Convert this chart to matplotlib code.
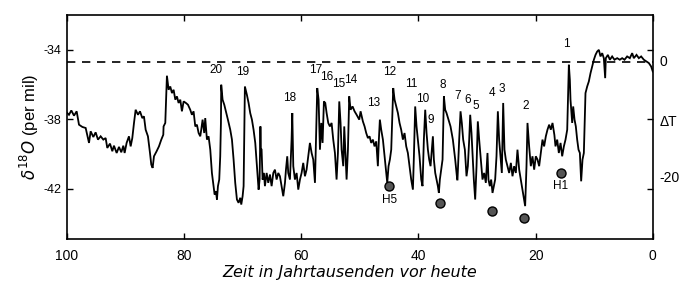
import matplotlib
matplotlib.use("Agg")
import matplotlib.pyplot as plt

# GISP2-style delta-18O record (ka before present, per mil)
age = [100.23, 99.66, 99.26, 98.80, 98.35, 97.95, 97.38, 96.81, 96.24, 95.96, 95.50, 95.11,
       94.71, 94.25, 93.80, 93.40, 93.12, 92.66, 92.26, 91.98, 91.52, 91.12, 90.73, 90.38,
       90.16, 89.82, 89.42, 89.13, 88.85, 88.56, 88.28, 87.88, 87.54, 87.14, 86.86, 86.57,
       86.18, 85.83, 85.61, 85.38, 85.15, 84.70, 84.30, 83.90, 83.56,
       83.51, 83.22, 83.05, 82.94, 82.65, 82.37, 82.08, 81.80, 81.51, 81.23, 80.95, 80.66,
       80.38, 80.09, 79.70, 79.35, 78.96, 78.67, 78.39, 78.10, 77.82, 77.53, 77.25, 77.08,
       76.85, 76.57, 76.40, 76.11, 75.83, 75.54, 75.26, 74.97, 74.80, 74.58, 74.40, 74.23,
       74.01, 73.84, 73.72, 73.67, 73.44, 73.15, 72.87, 72.53, 72.13, 71.84, 71.56, 71.28,
       70.99, 70.71, 70.42, 70.25, 70.02, 69.85, 69.74, 69.63, 69.29, 69.00, 68.72, 68.43,
       68.15, 67.86, 67.58, 67.29, 67.12, 66.98,
       66.90, 66.78, 66.61, 66.38, 66.21, 65.92, 65.64, 65.35, 65.07, 64.78, 64.50, 64.22,
       63.93, 63.65, 63.36, 63.08, 62.79, 62.62, 62.40, 62.23, 61.94, 61.66, 61.54, 61.37,
       61.09, 60.80, 60.52, 60.23, 59.95, 59.67, 59.38, 59.10, 58.81, 58.53, 58.24, 57.96,
       57.67, 57.50, 57.28, 57.05, 56.82, 56.59, 56.37, 56.14, 55.91, 55.68, 55.40, 55.12,
       54.83, 54.55, 54.26, 53.98, 53.75, 53.52, 53.30, 53.12, 52.84, 52.67, 52.50, 52.27,
       52.04, 51.82, 51.59, 51.25, 50.91, 50.56, 50.11,
       49.88, 49.49, 49.20, 48.92, 48.63, 48.35, 48.07, 47.78, 47.50, 47.21, 46.93, 46.76,
       46.59, 46.36, 46.07, 45.79, 45.50, 45.33, 45.11, 44.88, 44.65, 44.42, 44.31, 44.08,
       43.80, 43.51, 43.23, 42.95, 42.66, 42.38, 42.09, 41.81, 41.52, 41.24, 40.95, 40.78,
       40.56, 40.33, 40.10, 39.82, 39.53, 39.31, 39.08, 38.85, 38.62, 38.39, 38.17, 37.94,
       37.71, 37.54, 37.37, 37.14, 36.92, 36.69, 36.52, 36.35, 36.12, 35.89, 35.66, 35.44,
       35.21, 34.87, 34.53, 34.13, 33.73, 33.39,
       33.34, 33.05, 32.82, 32.60, 32.37, 32.08, 31.80, 31.57, 31.34, 31.17, 30.95, 30.78,
       30.55, 30.32, 30.09, 29.87, 29.64, 29.35, 29.07, 28.79, 28.50, 28.22, 28.05, 27.82,
       27.59, 27.36, 27.14, 26.91, 26.68, 26.45, 26.23, 26.00, 25.77, 25.54, 25.32, 25.09,
       24.80, 24.52, 24.23, 23.95, 23.67, 23.38, 23.10, 22.81, 22.53, 22.24, 21.96, 21.79,
       21.56, 21.39, 21.11, 20.82, 20.54, 20.25, 19.97, 19.68, 19.40, 19.12, 18.83, 18.55,
       18.26, 17.98, 17.69, 17.41, 17.12, 16.80,
       16.61, 16.32, 16.04, 15.75, 15.47, 15.18, 14.90, 14.61, 14.44, 14.33, 14.16, 14.05,
       13.76, 13.59, 13.36, 13.14, 12.91, 12.68, 12.45, 12.23, 12.00, 11.77, 11.49, 11.20,
       10.92, 10.63, 10.35, 10.06, 9.78, 9.50, 9.21, 8.93, 8.64, 8.36, 8.13, 8.02, 7.67,
       7.33, 6.94, 6.54, 6.08, 5.63, 5.23, 4.83, 4.38, 3.92, 3.52, 3.24, 2.78, 2.38, 1.99,
       1.53, 1.08, 0.68, 0.28, 0.0]

d18o = [-37.54, -37.74, -37.49, -37.79, -37.54, -38.31, -38.44, -38.50, -39.36, -38.69, -39.02, -38.75,
        -39.17, -38.98, -39.17, -39.08, -39.65, -39.40, -39.84, -39.52, -39.94, -39.59, -39.90, -39.52,
        -39.94, -39.36, -38.98, -39.56, -39.08, -38.21, -37.45, -37.74, -37.54, -37.93, -37.83, -38.60,
        -38.98, -39.94, -40.61, -40.80, -40.13, -39.84, -39.56, -39.17, -38.89,
        -38.41, -38.21, -36.49, -35.49, -36.30, -36.11, -36.49, -36.30, -36.87, -36.68, -37.06, -36.87,
        -37.54, -36.97, -37.06, -37.16, -37.45, -37.74, -37.54, -38.41, -38.31, -38.79, -38.98, -38.60,
        -38.02, -38.79, -37.93, -39.17, -38.98, -39.75, -41.09, -41.85, -42.33, -42.14, -42.62, -41.85,
        -41.47, -40.13, -38.21, -36.01, -36.87, -37.16, -37.54, -38.02, -38.60, -39.17, -40.32, -41.66,
        -42.62, -42.81, -42.52, -42.91, -42.43, -41.85, -39.17, -36.11, -36.59, -37.06, -37.64, -38.02,
        -38.60, -39.36, -40.70, -42.05, -41.47, -38.41,
        -39.75, -39.75, -41.47, -41.09, -41.85, -41.09, -41.66, -41.18, -41.85, -41.09, -40.90, -41.47,
        -41.09, -41.28, -41.85, -42.43, -41.66, -40.90, -40.13, -41.09, -41.47, -39.17, -37.64, -40.70,
        -41.47, -41.09, -42.05, -41.47, -41.09, -40.51, -41.28, -40.90, -40.13, -39.36, -39.94, -40.32,
        -41.66, -39.17, -36.20, -36.87, -39.75, -38.21, -39.36, -36.97, -37.06, -37.64, -38.21, -38.41,
        -38.21, -39.17, -39.94, -41.47, -39.94, -36.97, -38.21, -39.75, -40.70, -38.41, -39.75, -41.47,
        -39.75, -36.68, -37.45, -37.26, -37.54, -37.74, -38.02,
        -37.54, -38.12, -38.41, -38.79, -39.08, -38.98, -39.36, -39.17, -39.56, -39.27, -40.70, -39.17,
        -38.02, -38.60, -39.17, -40.13, -41.09, -41.66, -40.70, -40.32, -39.75, -37.26, -36.20, -36.87,
        -37.26, -37.64, -38.21, -38.60, -39.17, -38.79, -39.56, -39.94, -40.70, -41.47, -42.05, -40.13,
        -37.26, -38.41, -39.17, -40.13, -41.47, -41.85, -39.17, -37.45, -38.79, -39.75, -40.32, -40.70,
        -39.75, -38.98, -40.32, -41.09, -41.47, -41.85, -42.24, -41.47, -40.90, -40.32, -36.68, -37.45,
        -37.64, -38.02, -38.41, -39.17, -40.32, -41.47,
        -41.47, -39.17, -37.54, -38.21, -39.17, -39.75, -41.28, -40.70, -39.17, -37.74, -38.79, -39.94,
        -41.47, -42.62, -40.70, -38.12, -39.17, -40.32, -41.47, -41.09, -41.66, -39.94, -41.47, -41.85,
        -41.47, -42.24, -41.85, -41.47, -40.13, -37.54, -39.17, -40.13, -41.09, -37.06, -39.75, -40.32,
        -40.70, -41.09, -40.51, -41.28, -40.70, -41.09, -39.75, -40.90, -41.47, -42.05, -42.62, -43.00,
        -40.70, -38.21, -39.56, -40.70, -40.13, -40.90, -40.13, -40.32, -40.70, -39.94, -39.17, -39.56,
        -38.98, -38.60, -38.31, -38.60, -38.21, -38.90,
        -39.56, -39.17, -39.94, -39.36, -40.13, -39.56, -39.17, -38.60, -36.30, -34.86, -35.72, -36.87,
        -38.21, -37.26, -38.02, -38.41, -39.17, -39.75, -39.94, -41.57, -40.32, -39.94, -36.49, -36.11,
        -35.82, -35.34, -34.96, -34.57, -34.29, -34.10, -34.00, -34.38, -34.19, -34.48, -35.63, -34.48,
        -34.29, -34.57, -34.38, -34.57, -34.48, -34.57, -34.48, -34.57, -34.38, -34.48, -34.19, -34.48,
        -34.29, -34.48, -34.38, -34.57, -34.67, -34.76, -34.96, -35.25]

# Dansgaard-Oeschger event numbers and label positions
do_labels = ["20", "19", "18", "17", "16", "15", "14", "13", "12", "11", "10", "9",
             "8", "7", "6", "5", "4", "3", "2", "1"]
do_age = [74.6, 70.1, 62.0, 57.6, 55.7, 53.7, 51.6, 47.6, 44.9, 41.3, 39.25, 37.9,
          35.85, 33.3, 31.6, 30.2, 27.5, 25.8, 21.7, 14.7]
do_val = [-35.15, -35.26, -36.76, -35.15, -35.55, -35.95, -35.72, -37.05, -35.26, -35.95,
          -36.82, -38.02, -36.01, -36.64, -36.87, -37.22, -36.47, -36.24, -37.22, -33.66]

# Heinrich events (dots) and their labels
h_age = [45.0, 36.3, 27.45, 21.95, 15.7]
h_val = [-41.85, -42.8, -43.3, -43.68, -41.07]
h_labels = ["H5", "", "", "", "H1"]

ref_level = -34.72      # ΔT = 0 reference (dashed)
dT_ticks = ["0", "-20"]
dT_vals = [-34.72, -41.36]

xticks = [100, 80, 60, 40, 20, 0]
yticks = [-34, -38, -42]

fig = plt.figure(figsize=(6.8, 2.85), dpi=100)
ax = fig.add_axes([0.0985, 0.161, 0.8615, 0.786])

ax.plot(age, d18o, color="black", lw=1.3, solid_joinstyle="miter")
ax.axhline(ref_level, color="black", lw=1.2, dashes=(5, 4))

for lab, a, v in zip(do_labels, do_age, do_val):
    ax.text(a, v, lab, ha="center", va="center", fontsize=8.5,
            family="Liberation Sans", color="black")

ax.plot(h_age, h_val, "o", ms=6.5, mfc="#555555", mec="black", mew=1.0)
for lab, a, v in zip(h_labels, h_age, h_val):
    if lab:
        ax.text(a, v - 0.8, lab, ha="center", va="center", fontsize=8.5,
                family="Liberation Sans")

ax.set_xlim(100, 0)
ax.set_ylim(-44.9, -32.0)
ax.set_xticks(xticks)
ax.set_xticklabels([str(t) for t in xticks], family="Liberation Sans", fontsize=10)
ax.set_yticks(yticks)
ax.set_yticklabels([str(t) for t in yticks], family="Liberation Sans", fontsize=9)
ax.tick_params(direction="in", length=4, width=1.0, top=True, right=True, pad=4)
ax.tick_params(axis="x", pad=7)
for s in ax.spines.values():
    s.set_linewidth(1.2)

ax.set_ylabel(r"$\delta^{18}O$ (per mil)", fontsize=12, family="Liberation Sans", labelpad=2)
ax.set_xlabel("Zeit in Jahrtausenden vor heute", fontsize=11.5, family="DejaVu Sans",
              style="italic")
ax.xaxis.set_label_coords(0.483, -0.115)

for lab, v in zip(dT_ticks, dT_vals):
    ax.text(1.012, v, lab, transform=ax.get_yaxis_transform(), ha="left", va="center",
            fontsize=10, family="Liberation Sans")
ax.text(1.012, -38.14, "ΔT", transform=ax.get_yaxis_transform(), ha="left", va="center",
        fontsize=10, family="Liberation Sans")

fig.savefig("out.png", dpi=100)
